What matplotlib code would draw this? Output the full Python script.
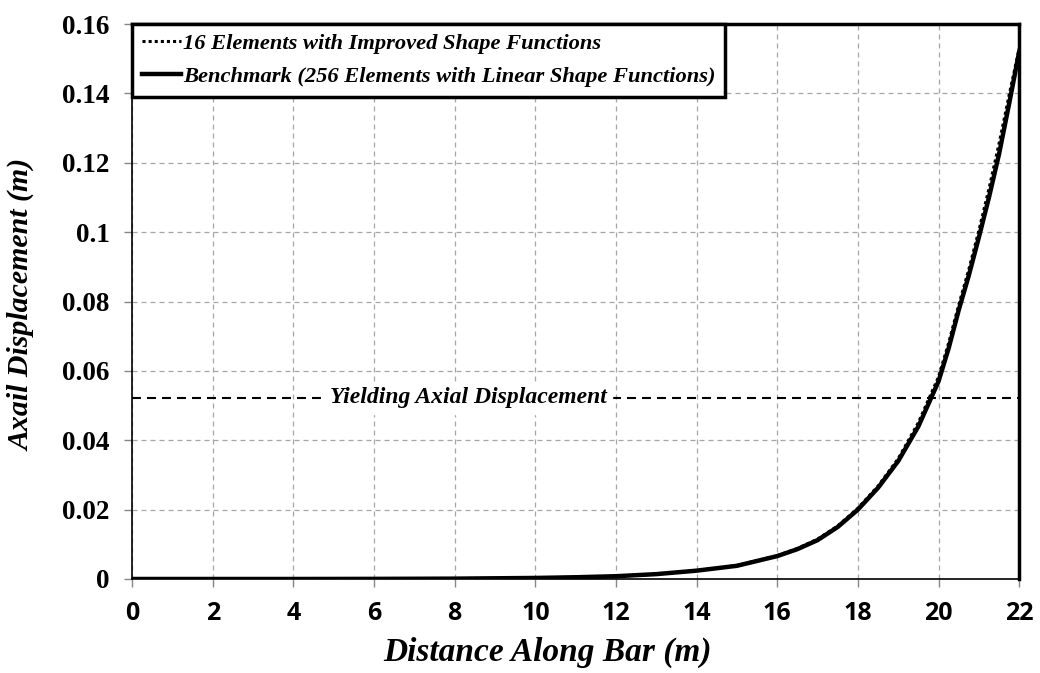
import matplotlib
matplotlib.use("Agg")
import matplotlib.pyplot as plt

# benchmark (256 elements, linear shape functions)
bench_x = [0, 2, 4, 6, 8, 9, 10, 11, 12, 13, 14, 15, 16, 16.5, 17, 17.5, 18,
           18.5, 19, 19.5, 20, 20.25, 20.5, 20.75, 21, 21.25, 21.5, 21.75, 22]
bench_y = [0, 0, 0, 0.00003, 0.0001, 0.0002, 0.0003, 0.0005, 0.0008, 0.0014,
           0.0024, 0.0038, 0.0066, 0.0086, 0.0112, 0.0150, 0.0200, 0.0263,
           0.0340, 0.0440, 0.0570, 0.0665, 0.0775, 0.0875, 0.0985, 0.110,
           0.1225, 0.137, 0.152]

# 16 elements with improved shape functions
imp_x = [0, 2, 4, 6, 8, 9, 10, 11, 12, 13, 14, 15, 16, 16.5, 17, 17.5, 18,
         18.5, 19, 19.5, 20, 20.25, 20.5, 20.75, 21, 21.25, 21.5, 21.75, 22]
imp_y = [0, 0, 0, 0.00003, 0.0001, 0.0002, 0.0003, 0.0005, 0.0008, 0.0014,
         0.0024, 0.0039, 0.0067, 0.0088, 0.0115, 0.0153, 0.0204, 0.0268,
         0.0347, 0.0451, 0.0583, 0.0680, 0.0790, 0.0892, 0.1005, 0.1125,
         0.1255, 0.1395, 0.153]

yield_disp = 0.0522
yield_label = "Yielding Axial Displacement"

serif_bi = dict(family="Liberation Serif", weight="bold", style="italic")

fig = plt.figure(figsize=(10.4, 6.73), dpi=100)
ax = fig.add_axes([0.127, 0.1397, 0.853, 0.8246])

ax.grid(True, color="#a6a6a6", linestyle=(0, (4, 3.2)), linewidth=0.9)
ax.set_axisbelow(True)

ax.axhline(yield_disp, color="black", linestyle=(0, (4.3, 2.9)), linewidth=1.5)
ax.text(8.33, yield_disp, yield_label, fontsize=17, ha="center", va="center",
        backgroundcolor="white", **serif_bi)

ax.plot(bench_x, bench_y, color="black", linewidth=3.2,
        label="Benchmark (256 Elements with Linear Shape Functions)")
ax.plot(imp_x, imp_y, color="black", linestyle=(0, (1, 1)), linewidth=2.2,
        label="16 Elements with Improved Shape Functions")

ax.set_xlim(0, 22)
ax.set_ylim(0, 0.16)
ax.set_xticks(range(0, 23, 2))
ax.set_yticks([0, 0.02, 0.04, 0.06, 0.08, 0.1, 0.12, 0.14, 0.16])
ax.set_yticklabels(["0", "0.02", "0.04", "0.06", "0.08", "0.1", "0.12", "0.14", "0.16"])

for lab in ax.get_xticklabels():
    lab.set_fontfamily("Open Sans")
    lab.set_fontweight("bold")
    lab.set_fontsize(18)
for lab in ax.get_yticklabels():
    lab.set_fontfamily("Liberation Serif")
    lab.set_fontweight("bold")
    lab.set_fontsize(19.5)

ax.tick_params(axis="both", direction="out", length=6, width=1, color="#888888")
ax.tick_params(axis="x", pad=10)
ax.tick_params(axis="y", pad=10)

ax.set_xlabel("Distance Along Bar (m)", fontsize=24, **serif_bi)
ax.set_ylabel("Axail Displacement (m)", fontsize=21.5, **serif_bi)
ax.xaxis.label.set_va("center")
ax.xaxis.set_label_coords(0.468, -0.133)
ax.yaxis.label.set_va("center")
ax.yaxis.set_label_coords(-0.124, 0.494)

for side in ["top", "right"]:
    ax.spines[side].set_linewidth(2.5)
ax.spines["left"].set_linewidth(1.2)
ax.spines["bottom"].set_linewidth(1.2)

handles, labels = ax.get_legend_handles_labels()
leg = ax.legend(handles[::-1], labels[::-1], loc="upper left", borderaxespad=0,
                fancybox=False, framealpha=1, edgecolor="black",
                handlelength=1.75, handletextpad=0.1, labelspacing=0.55,
                borderpad=0.42, prop=dict(family="Liberation Serif", weight="bold",
                                          style="italic", size=16.2))
leg.get_frame().set_linewidth(2.5)

fig.savefig("out.png", dpi=100)
